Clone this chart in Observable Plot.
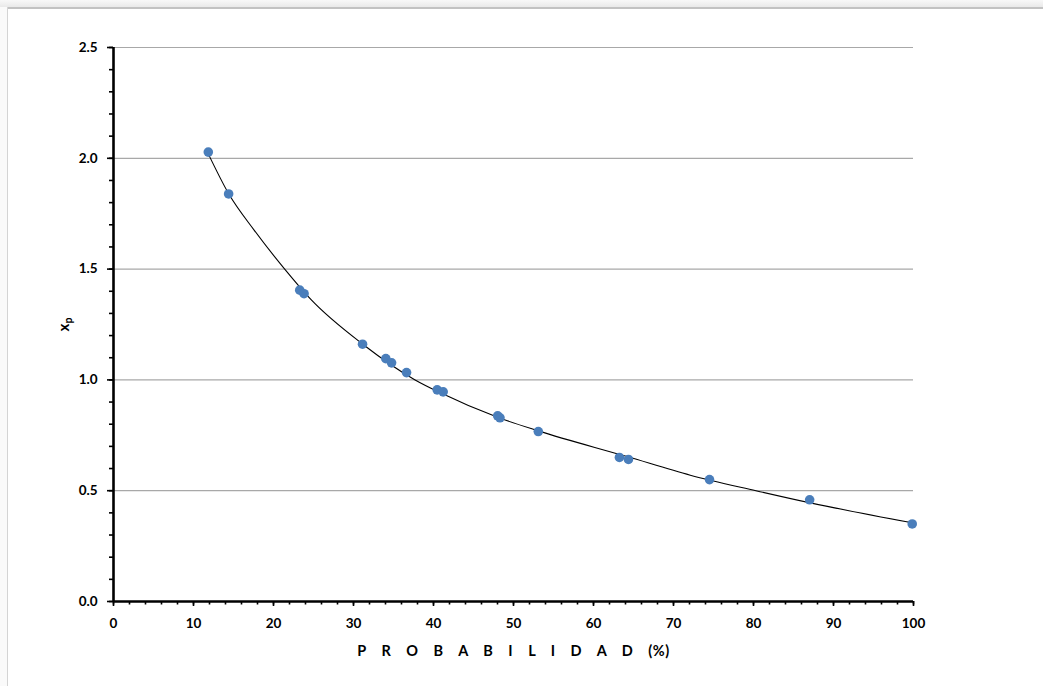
<!DOCTYPE html>
<html>
<head>
<meta charset="utf-8">
<script src="https://cdn.jsdelivr.net/npm/d3@7"></script>
<script src="https://cdn.jsdelivr.net/npm/@observablehq/plot@0.6"></script>
<style>
  html, body { margin: 0; padding: 0; background: #fff; overflow: hidden; }
  #wrap { position: relative; width: 1043px; height: 686px; }
  #topband { position: absolute; left: 0; top: 0; width: 1043px; height: 7px;
    background: linear-gradient(#f8f8f8, #e9e9e9); border-bottom: 2px solid #c2c2c2; z-index: 2; }
  #leftband { position: absolute; left: 0; top: 7px; width: 7px; height: 679px;
    background: #fafafa; border-right: 1px solid #d4d4d4; z-index: 2; }
  #chart { position: absolute; left: 0; top: 0; }
</style>
</head>
<body>
<div id="wrap">
  <div id="chart"></div>
  <div id="topband"></div>
  <div id="leftband"></div>
</div>
<script>
// Observed points: probability (%) vs x_p
const probability = [11.85, 14.39, 23.28, 23.82, 31.13, 34.04, 34.76, 36.63, 40.46, 41.21, 48.02, 48.31, 53.10, 63.24, 64.37, 74.50, 87.02, 99.84];
const xpValues   = [2.028, 1.839, 1.405, 1.389, 1.161, 1.096, 1.077, 1.033, 0.955, 0.946, 0.838, 0.829, 0.767, 0.650, 0.641, 0.550, 0.459, 0.350];

// Trend curve
const trendX = [11.85, 14.4, 17.6, 21.4, 24.7, 31.2, 37.7, 40.8, 48.1, 53.1, 64.2, 72.1, 80.3, 87.1, 99.84];
const trendY = [2.020, 1.840, 1.675, 1.50, 1.362, 1.16, 1.00, 0.943, 0.830, 0.770, 0.654, 0.570, 0.50, 0.445, 0.355];

// Axes
const yMajorTicks = [0, 0.5, 1.0, 1.5, 2.0, 2.5];
const yMinorTicks = d3.range(0, 26).map(i => i / 10);
const yGrid = [0.5, 1.0, 1.5, 2.0, 2.5];
const xMajorTicks = [0, 10, 20, 30, 40, 50, 60, 70, 80, 90, 100];
const xMinorTicks = d3.range(0, 51).map(i => i * 2);
const xLabelLetters = "P R O B A B I L I D A D";
const xLabelUnit = "(%)";

const points = probability.map((p, i) => ({p, xp: xpValues[i]}));
const trend = trendX.map((p, i) => ({p, xp: trendY[i]}));

const FONT = "Lato, 'Open Sans', 'Liberation Sans', sans-serif";

const chart = Plot.plot({
  width: 1043,
  height: 686,
  marginLeft: 113,
  marginRight: 130,
  marginTop: 47,
  marginBottom: 85,
  style: {fontFamily: FONT, background: "transparent", color: "#000"},
  x: {domain: [0, 100]},
  y: {domain: [0, 2.5]},
  marks: [
    Plot.ruleY(yGrid, {stroke: "#a8a8a8", strokeWidth: 1.2}),
    Plot.axisY({ticks: yMinorTicks, tickSize: 4, text: null, strokeWidth: 1.6, stroke: "#000", label: null}),
    Plot.axisY({ticks: yMajorTicks, tickSize: 6, tickPadding: 10, strokeWidth: 1.6, stroke: "#000",
      tickFormat: d => d.toFixed(1), fontSize: 13.5, fontWeight: "bold",
      label: "xp", labelAnchor: "center", labelArrow: "none", labelOffset: 55}),
    Plot.axisX({ticks: xMinorTicks, tickSize: 3.5, text: null, strokeWidth: 1.6, stroke: "#000", label: null}),
    Plot.axisX({ticks: xMajorTicks, tickSize: 5, tickPadding: 12, strokeWidth: 1.6, stroke: "#000",
      tickFormat: d => String(d), fontSize: 13.5, fontWeight: "bold",
      label: "PROBABILIDAD", labelAnchor: "center", labelArrow: "none", labelOffset: 54}),
    Plot.ruleX([0], {stroke: "#000", strokeWidth: 2.6}),
    Plot.ruleY([0], {stroke: "#000", strokeWidth: 2.6}),
    Plot.line(trend, {x: "p", y: "xp", curve: "monotone-x", stroke: "#000", strokeWidth: 1.1}),
    Plot.dot(points, {x: "p", y: "xp", r: 4.8, fill: "#4a7ebb", stroke: "none"})
  ]
});

document.getElementById("chart").appendChild(chart);

// Style the axis labels
const svg = d3.select(chart);
svg.selectAll('g[aria-label="x-axis label"] text').each(function() {
  const t = d3.select(this);
  t.text(null).attr("font-size", 14.5).attr("font-weight", "bold");
  t.append("tspan").attr("letter-spacing", "6px").text(xLabelLetters + " ");
  t.append("tspan").attr("letter-spacing", "0.5px").text(xLabelUnit);
});
svg.selectAll('g[aria-label="y-axis label"] text').each(function() {
  const t = d3.select(this);
  t.text(null).attr("font-size", 15).attr("font-weight", "bold");
  t.append("tspan").text("x");
  t.append("tspan").attr("font-size", 10.5).attr("dy", "0.3em").text("p");
});
</script>
</body>
</html>
